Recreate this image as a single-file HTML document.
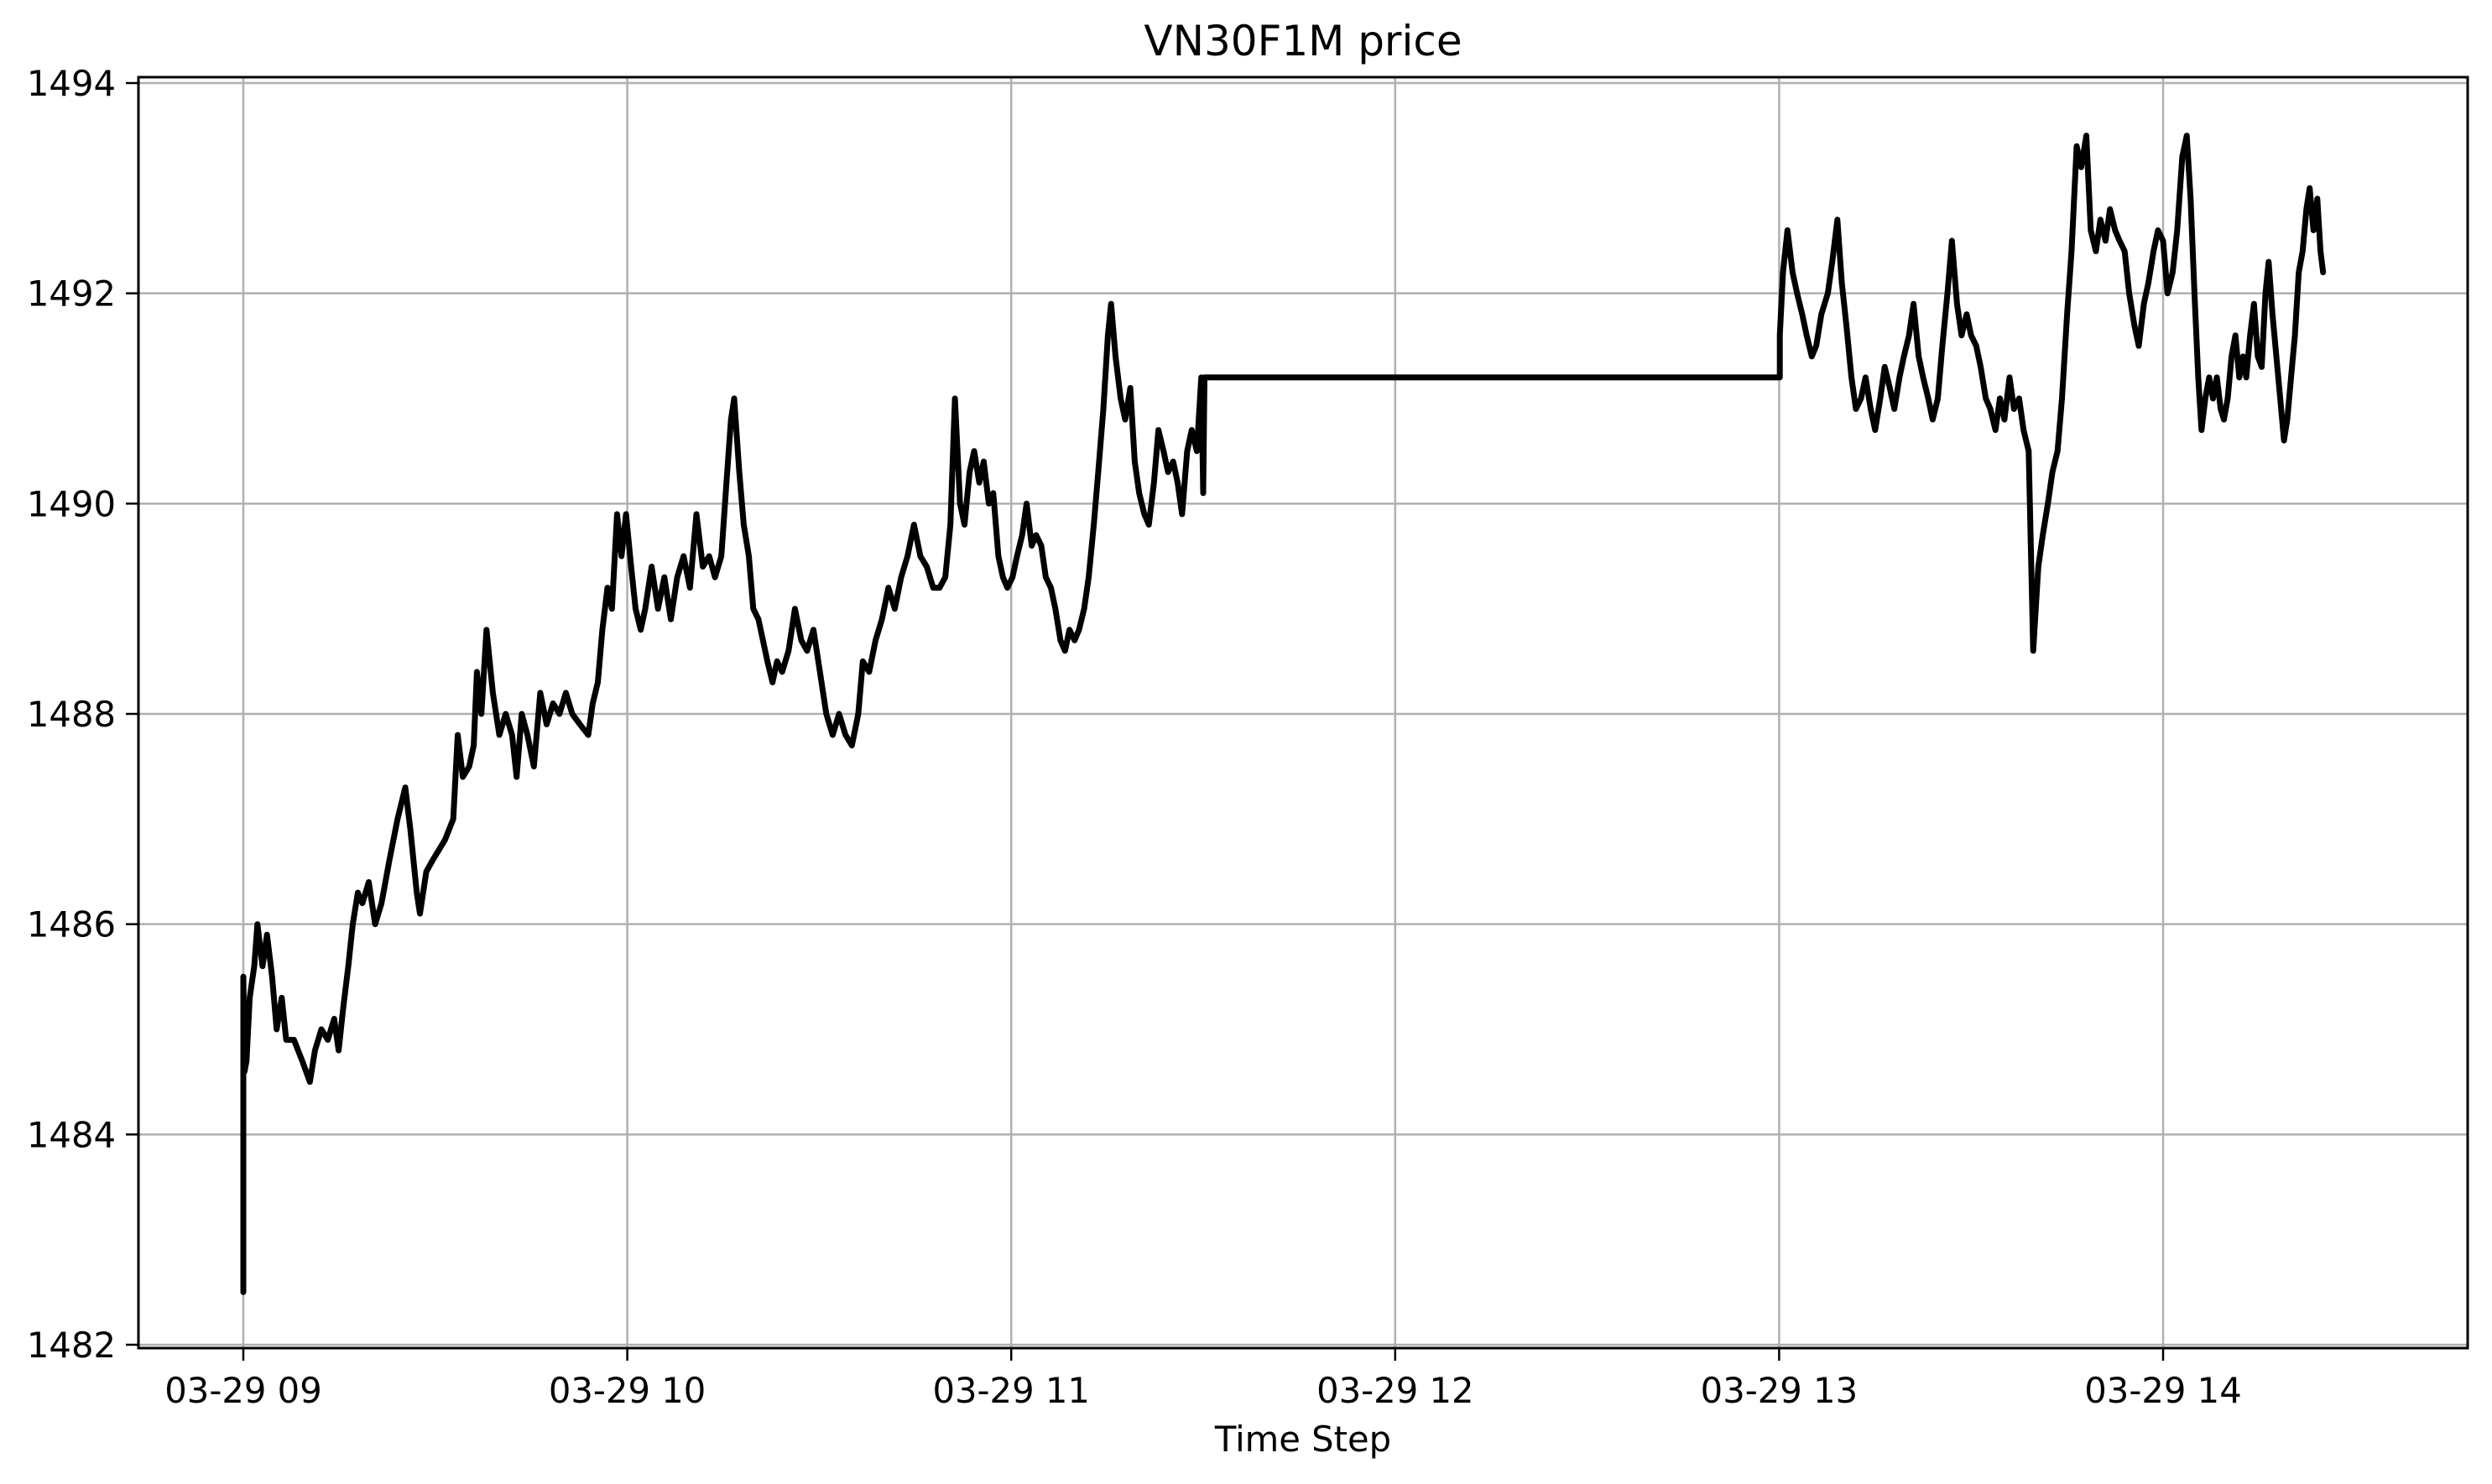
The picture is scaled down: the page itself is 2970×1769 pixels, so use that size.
<!DOCTYPE html>
<html><head><meta charset="utf-8"><style>
html,body{margin:0;padding:0;background:#fff;}
svg{display:block;font-family:"DejaVu Sans","Liberation Sans",sans-serif;}
</style></head><body>
<svg id="chart" width="2970" height="1769" viewBox="0 0 2970 1769" xmlns="http://www.w3.org/2000/svg">
<rect x="0" y="0" width="2970" height="1769" fill="#fff"/>
<g id="grid"></g>
<g id="series"></g>
<rect x="165" y="92" width="2776" height="1515" fill="none" stroke="#000" stroke-width="3"/>
<g id="ticks"></g>
<text x="1553" y="66" text-anchor="middle" font-size="50">VN30F1M price</text>
<text x="1553" y="1730" text-anchor="middle" font-size="41.7">Time Step</text>
</svg>
<script>
const xTickMinutes=[0,60,120,180,240,300];
const xTickLabels=["03-29 09","03-29 10","03-29 11","03-29 12","03-29 13","03-29 14"];
const yTickValues=[1482,1484,1486,1488,1490,1492,1494];
const minutes=[0,0,0.2,0.5,1,1.7,2.2,3,3.7,4.5,5.2,6,6.7,7.9,9.2,10.4,11.2,12.2,13.2,14.2,14.9,15.6,16.4,17.1,17.9,18.6,19.6,20.6,21.6,22.8,24.1,25.3,26.1,27.1,27.6,28.6,29.5,30.5,31.5,32.8,33.5,34.3,35.3,36,36.5,37.2,38,39,40,41,42,42.7,43.5,44.4,45.4,46.4,47.4,48.4,49.4,50.4,51.4,52.6,53.9,54.6,55.4,56.1,56.9,57.6,58.4,59.1,59.8,60.6,61.3,62.1,62.8,63.8,64.8,65.8,66.8,67.8,68.8,69.8,70.8,71.8,72.8,73.7,74.7,75.5,76.2,76.7,77.5,78.2,79,79.7,80.5,81.2,81.9,82.7,83.4,84.2,85.2,86.2,87.2,88.1,89.1,90.1,91.1,92.1,93.1,94.1,95.1,96.1,96.8,97.8,98.8,99.8,100.8,101.8,102.8,103.8,104.8,105.8,106.8,107.8,108.8,109.7,110.5,111.2,112,112.7,113.5,114.2,115,115.7,116.5,117.2,118,118.7,119.4,120.2,120.9,121.7,122.4,123.2,123.9,124.7,125.4,126.2,126.9,127.7,128.4,129.1,129.9,130.6,131.4,132.1,132.9,133.6,134.4,135.1,135.6,136.3,137.1,137.8,138.6,139.3,140,140.8,141.5,142.3,143,143.8,144.5,145.3,146,146.7,147.5,148.2,149,149.7,150,150.2,240.1,240.1,240.6,241.3,242.1,242.8,243.6,244.3,245.1,245.8,246.6,247.6,248.3,249.1,249.8,250.5,251.3,252,252.8,253.5,254.3,255,255.8,256.5,257.3,258,258.8,259.5,260.3,261,261.8,262.5,263.3,264,264.8,265.5,266.3,267,267.8,268.5,269.3,270,270.8,271.5,272.3,273,273.8,274.5,275.2,276,276.7,277.5,278.2,279,279.7,280.5,281.2,282,282.7,283.5,284.2,285,285.7,286.5,287.2,288,288.7,289.5,290.2,291,291.7,292.5,293.2,294,294.7,295.5,296.2,297,297.7,298.5,299.2,300,300.7,301.5,302.2,303,303.7,304.3,304.9,305.5,306,306.6,307.2,307.8,308.4,309,309.5,310.1,310.7,311.3,311.9,312.5,313,313.6,314.2,314.8,315.4,316,316.5,317.1,317.7,318.3,318.9,319.4,320,320.6,321.2,321.8,322.4,322.9,323.5,324.1,324.6,325];
const prices=[1482.5,1485.5,1484.6,1484.7,1485.3,1485.6,1486.0,1485.6,1485.9,1485.5,1485.0,1485.3,1484.9,1484.9,1484.7,1484.5,1484.8,1485.0,1484.9,1485.1,1484.8,1485.2,1485.6,1486.0,1486.3,1486.2,1486.4,1486.0,1486.2,1486.6,1487.0,1487.3,1486.9,1486.3,1486.1,1486.5,1486.6,1486.7,1486.8,1487.0,1487.8,1487.4,1487.5,1487.7,1488.4,1488.0,1488.8,1488.2,1487.8,1488.0,1487.8,1487.4,1488.0,1487.8,1487.5,1488.2,1487.9,1488.1,1488.0,1488.2,1488.0,1487.9,1487.8,1488.1,1488.3,1488.8,1489.2,1489.0,1489.9,1489.5,1489.9,1489.4,1489.0,1488.8,1489.0,1489.4,1489.0,1489.3,1488.9,1489.3,1489.5,1489.2,1489.9,1489.4,1489.5,1489.3,1489.5,1490.2,1490.8,1491.0,1490.3,1489.8,1489.5,1489.0,1488.9,1488.7,1488.5,1488.3,1488.5,1488.4,1488.6,1489.0,1488.7,1488.6,1488.8,1488.4,1488.0,1487.8,1488.0,1487.8,1487.7,1488.0,1488.5,1488.4,1488.7,1488.9,1489.2,1489.0,1489.3,1489.5,1489.8,1489.5,1489.4,1489.2,1489.2,1489.3,1489.8,1491.0,1490.0,1489.8,1490.3,1490.5,1490.2,1490.4,1490.0,1490.1,1489.5,1489.3,1489.2,1489.3,1489.5,1489.7,1490.0,1489.6,1489.7,1489.6,1489.3,1489.2,1489.0,1488.7,1488.6,1488.8,1488.7,1488.8,1489.0,1489.3,1489.8,1490.3,1490.9,1491.6,1491.9,1491.4,1491.0,1490.8,1491.1,1490.4,1490.1,1489.9,1489.8,1490.2,1490.7,1490.5,1490.3,1490.4,1490.2,1489.9,1490.5,1490.7,1490.5,1491.2,1490.1,1491.2,1491.2,1491.6,1492.2,1492.6,1492.2,1492.0,1491.8,1491.6,1491.4,1491.5,1491.8,1492.0,1492.3,1492.7,1492.1,1491.7,1491.2,1490.9,1491.0,1491.2,1490.9,1490.7,1491.0,1491.3,1491.1,1490.9,1491.2,1491.4,1491.6,1491.9,1491.4,1491.2,1491.0,1490.8,1491.0,1491.5,1492.0,1492.5,1491.9,1491.6,1491.8,1491.6,1491.5,1491.3,1491.0,1490.9,1490.7,1491.0,1490.8,1491.2,1490.9,1491.0,1490.7,1490.5,1488.6,1489.4,1489.7,1490.0,1490.3,1490.5,1491.0,1491.8,1492.4,1493.4,1493.2,1493.5,1492.6,1492.4,1492.7,1492.5,1492.8,1492.6,1492.5,1492.4,1492.0,1491.7,1491.5,1491.9,1492.1,1492.4,1492.6,1492.5,1492.0,1492.2,1492.6,1493.3,1493.5,1492.9,1492.0,1491.2,1490.7,1491.0,1491.2,1491.0,1491.2,1490.9,1490.8,1491.0,1491.4,1491.6,1491.2,1491.4,1491.2,1491.6,1491.9,1491.4,1491.3,1492.0,1492.3,1491.8,1491.4,1491.0,1490.6,1490.8,1491.2,1491.6,1492.2,1492.4,1492.8,1493.0,1492.6,1492.9,1492.4,1492.2];

const NS='http://www.w3.org/2000/svg';
const L=165,R=2941,T=92,B=1607;
function xScale(m){return 290+m*457.6/60;}
function yScale(p){return 1603-(p-1482)*(1603-99)/12;}
function mk(tag,attrs,parent){const e=document.createElementNS(NS,tag);for(const k in attrs)e.setAttribute(k,attrs[k]);parent.appendChild(e);return e;}
const grid=document.getElementById('grid'),ticks=document.getElementById('ticks'),series=document.getElementById('series');
xTickMinutes.forEach((m,i)=>{
  const x=xScale(m);
  const g=mk('line',{x1:x,x2:x,y1:T,y2:B,stroke:'#b0b0b0','stroke-width':2.5},grid);
  
  
  const t=mk('line',{x1:x,x2:x,y1:B,y2:B+15,stroke:'#000','stroke-width':2.5},ticks);
  
  
  const lb=mk('text',{x:x,y:B+65,'text-anchor':'middle','font-size':41.7},ticks);
  lb.textContent=xTickLabels[i];
  
  
});
yTickValues.forEach(v=>{
  const y=yScale(v);
  const g=mk('line',{x1:L,x2:R,y1:y,y2:y,stroke:'#b0b0b0','stroke-width':2.5},grid);
  
  
  const t=mk('line',{x1:L-15,x2:L,y1:y,y2:y,stroke:'#000','stroke-width':2.5},ticks);
  
  
  const lb=mk('text',{x:L-27,y:y+15,'text-anchor':'end','font-size':41.7},ticks);
  lb.textContent=String(v);
  
  
});
let d='';
minutes.forEach((m,i)=>{d+=(i?'L':'M')+xScale(m).toFixed(1)+','+yScale(prices[i]).toFixed(1);});
const line=mk('path',{d:d,fill:'none',stroke:'#000','stroke-width':7,'stroke-linejoin':'round','stroke-linecap':'round'},series);


</script>
</body></html>
